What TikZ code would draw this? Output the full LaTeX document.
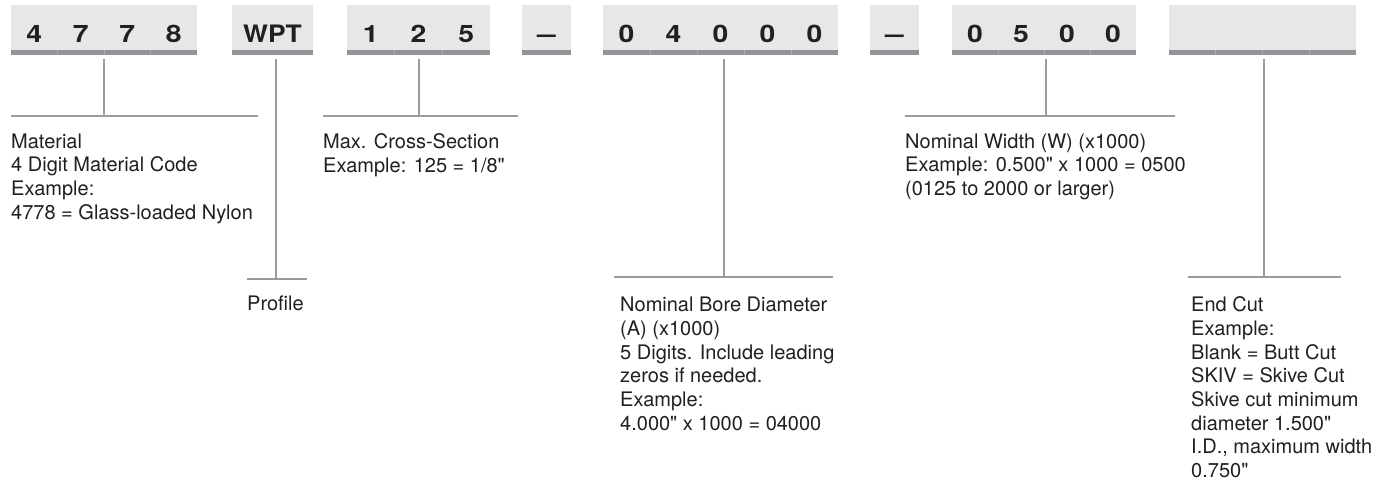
\documentclass[tikz,border=0pt]{standalone}
\usepackage{graphicx}
\usepackage{fontspec}
\newfontfamily\helv{TeX Gyre Heros}
\setmainfont{TeX Gyre Heros}
\usetikzlibrary{calc}
\definecolor{txt}{HTML}{231F20}
\definecolor{boxfill}{HTML}{E6E7E8}
\definecolor{barcol}{HTML}{939598}
\definecolor{sepcol}{HTML}{ABADB0}
\definecolor{linecol}{HTML}{9A9B9E}
\newcommand{\wide}[1]{\scalebox{1.18}[1]{#1}}
\tikzset{
  codebox/.style={fill=boxfill, draw=none, inner sep=0pt, outer sep=0pt, anchor=north west, minimum height=50pt},
  dig/.style={font=\fontsize{24}{24}\selectfont\bfseries, text=txt, inner sep=0pt, anchor=base},
  stem/.style={draw=linecol, line width=2.6pt},
  desc/.style={font=\helv\fontsize{20}{23.7}\selectfont, text=txt, align=left, inner sep=0pt, anchor=north west}
}
\newcommand{\cellbar}[3]{% x0, cellwidth, n
  \fill[barcol] (#1,50) rectangle ({#1+#3*#2},55);
  \ifnum#3>1
  \foreach \i in {2,...,#3}{
    \fill[sepcol] ({#1+(\i-1)*#2-0.5},50) rectangle ({#1+(\i-1)*#2+0.5},55);
  }\fi}
\begin{document}
\begin{tikzpicture}[x=1pt,y=-1pt]
\useasboundingbox[fill=white] (0,0) rectangle (1391,482);
% boxes
\node[codebox, minimum width=186pt] (b1) at (11,5) {};
\node[codebox, minimum width=81pt] (b2) at (232,5) {};
\node[codebox, minimum width=143pt] (b3) at (347,5) {};
\node[codebox, minimum width=49pt] (b4) at (522,5) {};
\node[codebox, minimum width=235pt] (b5) at (603,5) {};
\node[codebox, minimum width=49pt] (b6) at (870,5) {};
\node[codebox, minimum width=184pt] (b7) at (952,5) {};
\node[codebox, minimum width=187pt] (b8) at (1169,5) {};
% bars
\cellbar{11}{46.5}{4}
\cellbar{232}{81}{1}
\cellbar{347}{47.667}{3}
\cellbar{522}{49}{1}
\cellbar{603}{47}{5}
\cellbar{870}{49}{1}
\cellbar{952}{46}{4}
\cellbar{1169}{46.75}{4}
% digits
\foreach \d [count=\i] in {4,7,7,8}{ \node[dig] (d1\i) at ({11+(\i-0.5)*46.5},42) {\wide{\d}}; }
\node[dig] (d21) at (272.5,42) {\scalebox{1.1}[1]{WPT}};
\foreach \d [count=\i] in {1,2,5}{ \node[dig] (d3\i) at ({347+(\i-0.5)*47.667},42) {\wide{\d}}; }
\node[dig] (d41) at (546.5,42) {\scalebox{1.4}[1]{–}};
\foreach \d [count=\i] in {0,4,0,0,0}{ \node[dig] (d5\i) at ({603+(\i-0.5)*47},42) {\wide{\d}}; }
\node[dig] (d61) at (894.5,42) {\scalebox{1.4}[1]{–}};
\foreach \d [count=\i] in {0,5,0,0}{ \node[dig] (d7\i) at ({952+(\i-0.5)*46},42) {\wide{\d}}; }
% coordinates for connectors
\coordinate (j1) at (104,116);
\coordinate (h1a) at (11,116);
\coordinate (h1b) at (258,116);
\coordinate (j2) at (276,279);
\coordinate (h2a) at (247,279);
\coordinate (h2b) at (307,279);
\coordinate (j3) at (419,116);
\coordinate (h3a) at (323,116);
\coordinate (h3b) at (518,116);
\coordinate (j5) at (724,277);
\coordinate (h5a) at (614,277);
\coordinate (h5b) at (833,277);
\coordinate (j7) at (1046,116);
\coordinate (h7a) at (905,116);
\coordinate (h7b) at (1175,116);
\coordinate (j8) at (1264,277);
\coordinate (h8a) at (1188,277);
\coordinate (h8b) at (1341,277);
% stems
\draw[stem] (b1.south -| j1) ++(0,4) -- (j1);
\draw[stem] (b2.south -| j2) ++(0,4) -- (j2);
\draw[stem] (b3.south -| j3) ++(0,4) -- (j3);
\draw[stem] (b5.south -| j5) ++(0,4) -- (j5);
\draw[stem] (b7.south -| j7) ++(0,4) -- (j7);
\draw[stem] (b8.south -| j8) ++(0,4) -- (j8);
\draw[stem] (h1a) -- (h1b);
\draw[stem] (h2a) -- (h2b);
\draw[stem] (h3a) -- (h3b);
\draw[stem] (h5a) -- (h5b);
\draw[stem] (h7a) -- (h7b);
\draw[stem] (h8a) -- (h8b);
% descriptions
\node[desc] (t1) at (11,133.5) {Material\\4 Digit Material Code\\Example:\\4778 = Glass-loaded Nylon};
\node[desc] (t2) at (247,295.5) {Profile};
\node[desc] (t3) at (323,133.5) {Max. Cross-Section\\Example: 125 = 1/8"};
\node[desc] (t5) at (620,297) {Nominal Bore Diameter\\(A) (x1000)\\5 Digits. Include leading\\zeros if needed.\\Example:\\4.000" x 1000 = 04000};
\node[desc] (t7) at (905,133.5) {Nominal Width (W) (x1000)\\Example: 0.500" x 1000 = 0500\\(0125 to 2000 or larger)};
\node[desc] (t8) at (1191,296.5) {End Cut\\Example:\\Blank = Butt Cut\\SKIV = Skive Cut\\Skive cut minimum\\diameter 1.500"\\I.D., maximum width\\0.750"};
\end{tikzpicture}
\end{document}
